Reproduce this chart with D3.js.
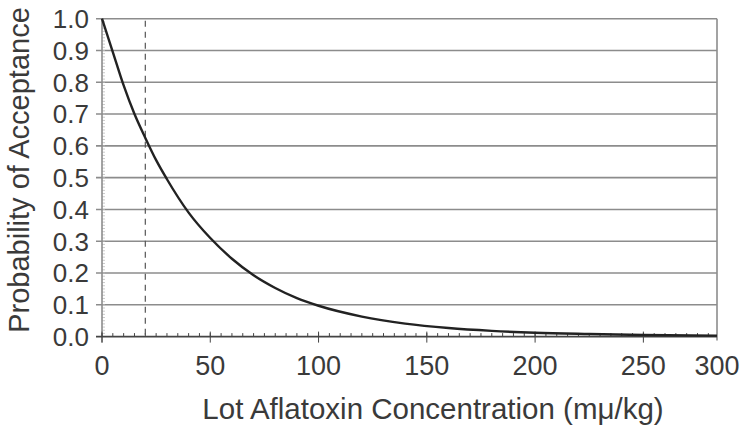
<!DOCTYPE html>
<html>
<head>
  <meta charset="utf-8">
  <script src="https://d3js.org/d3.v7.min.js"></script>
  <style>
    body { margin: 0; background: #fff; }
    text { font-family: "Liberation Sans", Arial, sans-serif; fill: #3a3a3a; }
  </style>
</head>
<body>
<svg width="740" height="429"></svg>
<script>
// --- Daten ---
const konz = [0, 5, 10, 15, 20, 25, 30, 40, 50, 60, 70, 80, 90, 100, 120, 140, 160, 180, 200, 225, 250, 284];
const pAnnahme = [1.0, 0.895, 0.79, 0.70, 0.625, 0.555, 0.495, 0.39, 0.31, 0.245, 0.193, 0.153, 0.121, 0.097, 0.063, 0.041, 0.027, 0.018, 0.012, 0.008, 0.005, 0.003];
const xTicks = [0, 50, 100, 150, 200, 250, 300];
const yTicks = [0, 0.1, 0.2, 0.3, 0.4, 0.5, 0.6, 0.7, 0.8, 0.9, 1.0];
const grenzwert = 20;
const xMax = 284;

const svg = d3.select("svg");
const L = 102, R = 717, T = 18.7, B = 336.6;

const x = d3.scaleLinear().domain([0, xMax]).range([L, R]);
const y = d3.scaleLinear().domain([0, 1]).range([B, T]);

// Gitterlinien
svg.append("g").selectAll("line").data(yTicks.filter(d => d > 0)).join("line")
  .attr("x1", L - 6).attr("x2", R)
  .attr("y1", d => y(d)).attr("y2", d => y(d))
  .attr("stroke", "#8c8c8c").attr("stroke-width", 1.6);

// kleine Striche y-Achse
svg.append("g").selectAll("line").data(d3.range(0, 100)).join("line")
  .attr("x1", L).attr("x2", L + 3)
  .attr("y1", d => y(d / 100)).attr("y2", d => y(d / 100))
  .attr("stroke", "#bdbdbd").attr("stroke-width", 0.8);

// Rahmen rechts, y-Achse
svg.append("line").attr("x1", R).attr("x2", R).attr("y1", T).attr("y2", B + 4)
  .attr("stroke", "#8c8c8c").attr("stroke-width", 1.6);
svg.append("line").attr("x1", L).attr("x2", L).attr("y1", T).attr("y2", B + 6)
  .attr("stroke", "#8c8c8c").attr("stroke-width", 1.6);

// kleine Striche x-Achse
svg.append("g").selectAll("line").data(d3.range(0, xMax, 5)).join("line")
  .attr("x1", d => x(d)).attr("x2", d => x(d))
  .attr("y1", B - 3.5).attr("y2", B)
  .attr("stroke", "#444").attr("stroke-width", 1);
svg.append("g").selectAll("line").data(xTicks.filter(d => d <= xMax)).join("line")
  .attr("x1", d => x(d)).attr("x2", d => x(d))
  .attr("y1", B - 5).attr("y2", B + 6)
  .attr("stroke", "#444").attr("stroke-width", 1);

// x-Achse
svg.append("line").attr("x1", L - 6).attr("x2", R).attr("y1", B).attr("y2", B)
  .attr("stroke", "#444").attr("stroke-width", 1.6);

// Grenzwert gestrichelt
svg.append("line").attr("x1", x(grenzwert)).attr("x2", x(grenzwert))
  .attr("y1", y(1) + 2).attr("y2", B)
  .attr("stroke", "#555").attr("stroke-width", 1.2).attr("stroke-dasharray", "6,5");

// Kurve
const line = d3.line().x((d, i) => x(konz[i])).y(d => y(d)).curve(d3.curveMonotoneX);
svg.append("path").datum(pAnnahme).attr("d", line)
  .attr("fill", "none").attr("stroke", "#222").attr("stroke-width", 2.4);

// Beschriftungen
svg.append("g").selectAll("text").data(yTicks).join("text")
  .attr("x", 89).attr("y", d => y(d)).attr("dy", "0.36em")
  .attr("text-anchor", "end").attr("font-size", 26)
  .text(d => d.toFixed(1));

svg.append("g").selectAll("text").data(xTicks).join("text")
  .attr("x", d => Math.min(x(d), R)).attr("y", 375)
  .attr("text-anchor", "middle").attr("font-size", 27)
  .text(d => d);

svg.append("text").attr("x", 433).attr("y", 419)
  .attr("text-anchor", "middle").attr("font-size", 29.5)
  .text("Lot Aflatoxin Concentration (mμ/kg)");

svg.append("text").attr("transform", "translate(29,170) rotate(-90)")
  .attr("text-anchor", "middle").attr("font-size", 29)
  .text("Probability of Acceptance");
</script>
</body>
</html>
